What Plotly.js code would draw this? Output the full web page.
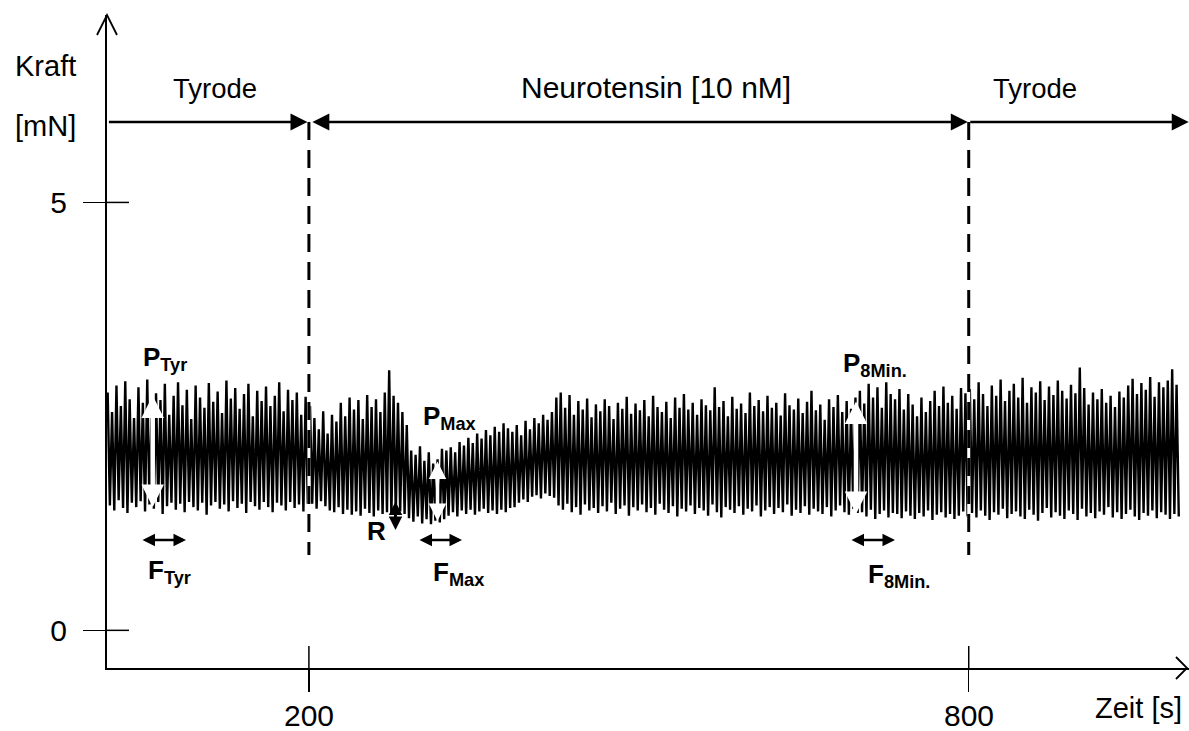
<!DOCTYPE html>
<html><head><meta charset="utf-8">
<script src="https://cdn.plot.ly/plotly-3.0.1.min.js"></script>
<style>html,body{margin:0;padding:0;background:#fff;}#chart{width:1189px;height:731px;}</style>
</head><body><div id="chart"></div>
<script>
// ---- data ----
const sampleStart = 17;     // s, time of the first contraction peak
const cycleLength = 4;      // s, spacing of the drawn contraction cycles
const peakForce = [
 2.78,2.55,2.86,2.62,2.91,2.70,2.48,2.84,2.66,2.93,2.58,2.77,
 2.69,2.88,2.52,2.74,2.90,2.63,2.81,2.47,2.86,2.72,2.60,2.89,
 2.67,2.79,2.54,2.92,2.71,2.83,2.59,2.76,2.88,2.50,2.80,2.68,
 2.85,2.62,2.74,2.90,2.56,2.81,2.69,2.78,2.52,2.73,
 2.62,2.48,2.35,2.56,2.30,2.52,2.44,2.66,2.50,2.72,2.58,2.69,2.47,2.75,2.61,2.70,2.55,2.78,3.04,2.74,2.66,
 2.55,2.40,2.10,2.05,2.15,1.98,2.08,1.95,2.00,2.12,
 2.10,2.14,2.08,2.20,2.16,2.25,2.19,2.30,2.24,2.34,2.28,2.38,2.32,2.42,2.36,
 2.32,2.40,2.28,2.45,2.35,2.48,2.42,2.52,2.46,2.55,
 2.72,2.78,2.60,2.75,2.52,2.68,2.58,2.71,2.49,2.64,
 2.56,2.70,2.62,2.47,2.66,2.59,2.73,2.53,2.65,2.57,
 2.69,2.50,2.74,2.61,2.55,2.67,2.48,2.72,2.60,2.76,
 2.58,2.66,2.52,2.70,2.63,2.57,2.84,2.61,2.68,2.50,
 2.73,2.59,2.65,2.54,2.78,2.62,2.69,2.56,2.74,2.60,
 2.66,2.51,2.77,2.63,2.58,2.71,2.54,2.67,2.80,2.57,
 2.64,2.46,2.70,2.61,2.75,2.55,2.68,2.59,2.72,
 2.80,2.65,2.88,2.72,2.84,2.60,2.90,2.76,
 2.70,2.82,2.58,2.76,2.64,2.50,2.72,2.55,2.68,2.80,2.62,2.85,2.66,2.74,2.59,2.83,2.77,
 2.82,2.70,2.90,2.76,2.62,2.86,2.74,2.93,2.68,2.80,
 2.88,2.72,2.95,2.66,2.84,2.78,2.91,2.69,2.85,2.75,
 2.92,2.80,2.71,2.87,2.77,3.07,2.83,2.64,2.78,2.70,
 2.82,2.66,2.74,2.61,2.79,2.72,2.86,2.94,2.76,2.89,
 2.81,2.96,2.73,2.90,2.84,2.92,3.05,2.87
];
const troughForce = [
 1.46,1.40,1.52,1.43,1.37,1.49,1.44,1.51,1.39,1.47,1.42,1.50,
 1.36,1.45,1.49,1.41,1.48,1.38,1.50,1.44,1.40,1.49,1.35,1.46,
 1.50,1.42,1.47,1.39,1.51,1.43,1.48,1.37,1.50,1.45,1.41,1.50,
 1.44,1.38,1.49,1.46,1.40,1.50,1.43,1.47,1.39,1.48,
 1.48,1.42,1.51,1.45,1.40,1.38,1.44,1.36,1.41,1.35,1.39,1.34,1.42,1.37,1.33,1.40,1.36,1.38,1.35,1.37,1.39,
 1.36,1.31,1.27,1.33,1.25,1.30,1.24,1.28,1.26,1.30,
 1.34,1.38,1.33,1.40,1.36,1.41,1.35,1.39,1.42,1.37,1.40,1.36,1.41,1.38,1.43,
 1.44,1.49,1.53,1.50,1.56,1.58,1.54,1.60,1.57,1.55,
 1.46,1.41,1.48,1.38,1.44,1.35,1.47,1.40,1.43,1.37,
 1.45,1.39,1.49,1.36,1.42,1.46,1.34,1.44,1.40,1.47,
 1.38,1.43,1.35,1.48,1.41,1.37,1.45,1.33,1.42,1.39,
 1.46,1.36,1.43,1.40,1.34,1.47,1.38,1.32,1.44,1.41,
 1.37,1.45,1.35,1.42,1.39,1.46,1.33,1.40,1.44,1.36,
 1.43,1.38,1.47,1.34,1.41,1.37,1.45,1.35,1.42,1.39,
 1.36,1.44,1.33,1.40,1.46,1.38,1.35,1.42,1.37,
 1.38,1.33,1.41,1.30,1.36,1.40,1.32,1.37,
 1.36,1.31,1.39,1.34,1.30,1.37,1.33,1.40,1.29,1.35,1.38,1.32,1.36,1.30,1.34,1.39,1.33,
 1.37,1.32,1.40,1.34,1.29,1.38,1.35,1.42,1.31,1.36,
 1.39,1.33,1.30,1.41,1.35,1.28,1.37,1.43,1.32,1.38,
 1.34,1.30,1.40,1.36,1.29,1.42,1.33,1.37,1.31,1.39,
 1.35,1.44,1.32,1.38,1.30,1.36,1.41,1.33,1.29,1.37,
 1.34,1.40,1.31,1.38,1.35,1.30,1.36,1.33
];
const phaseLabels = ['Tyrode', 'Neurotensin [10 nM]', 'Tyrode'];
const phaseBounds = [200, 800];           // s, solution changes
const xTickVals = [200, 800];
const xTickLabels = ['200', '800'];
const yTickVals = [0, 5];
const yTickLabels = ['0', '5'];

// ---- build the trace from the peak / trough arrays ----
const tx = [], ty = [];
for (let i = 0; i < peakForce.length; i++) {
  tx.push(sampleStart + i * cycleLength);
  ty.push(peakForce[i]);
  tx.push(sampleStart + i * cycleLength + cycleLength / 2);
  ty.push(troughForce[i]);
}

// ---- geometry helpers (pixel -> paper) ----
const W = 1189, H = 731, ML = 107, MR = 0, MT = 15, MB = 63;
const PW = W - ML - MR, PH = H - MT - MB;
const px = v => (v - ML) / PW;
const py = v => (H - MB - v) / PH;

const FONT = 'Liberation Sans, Arial, sans-serif';
const txt = (text, x, y, size, opts) => Object.assign({
  text, xref: 'paper', yref: 'paper', x: px(x), y: py(y),
  xanchor: 'center', yanchor: 'middle', showarrow: false,
  font: {family: FONT, size: size, color: '#000'}
}, opts || {});
const lbl = (text, x, y) => ({
  text: '<b>' + text + '</b>', xref: 'paper', yref: 'paper', x: px(x), y: py(y),
  xanchor: 'left', yanchor: 'middle', showarrow: false,
  font: {family: FONT, size: 26, color: '#000'}
});
// double arrow between two pixel points
const dArrow = (x1, y1, x2, y2, color, width, size) => ({
  text: '', xref: 'paper', yref: 'paper', x: px(x2), y: py(y2),
  axref: 'pixel', ayref: 'pixel', ax: x1 - x2, ay: y1 - y2,
  showarrow: true, arrowside: 'end+start', arrowhead: 2, startarrowhead: 2,
  arrowsize: size, startarrowsize: size, arrowwidth: width, arrowcolor: color
});

const annotations = [
  // y-axis title
  txt('Kraft', 13, 66, 29, {xanchor: 'left'}),
  txt('[mN]', 13, 126, 29, {xanchor: 'left'}),
  // x-axis title
  txt('Zeit [s]', 1184, 708, 29, {xanchor: 'right'}),
  // x tick labels
  {text: xTickLabels[0], xref: 'x', yref: 'paper', x: xTickVals[0], y: 0, yshift: -47,
   xanchor: 'center', yanchor: 'middle', showarrow: false, font: {family: FONT, size: 30, color: '#000'}},
  {text: xTickLabels[1], xref: 'x', yref: 'paper', x: xTickVals[1], y: 0, yshift: -47,
   xanchor: 'center', yanchor: 'middle', showarrow: false, font: {family: FONT, size: 30, color: '#000'}},
  // phase labels
  txt(phaseLabels[0], 215, 88, 27.5),
  txt(phaseLabels[1], 656, 87, 30),
  txt(phaseLabels[2], 1035, 88, 27.5),
  // phase arrows
  {text: '', xref: 'x', yref: 'paper', x: phaseBounds[0], y: py(122), axref: 'pixel', ayref: 'pixel',
   ax: -(308.5 - ML), ay: 0, showarrow: true, arrowhead: 2, arrowsize: 1.3, arrowwidth: 2.6,
   standoff: 1.5, arrowcolor: '#000'},
  {text: '', xref: 'x', yref: 'paper', x: phaseBounds[1], y: py(122), axref: 'x', ayref: 'pixel',
   ax: phaseBounds[0], ay: 0, showarrow: true, arrowside: 'end+start', arrowhead: 2, startarrowhead: 2,
   arrowsize: 1.3, startarrowsize: 1.3, arrowwidth: 2.6, standoff: 1, startstandoff: 2, arrowcolor: '#000'},
  {text: '', xref: 'x', yref: 'paper', x: 1000, y: py(122), axref: 'x', ayref: 'pixel',
   ax: phaseBounds[1], ay: 0, showarrow: true, arrowhead: 2, arrowsize: 1.3, arrowwidth: 2.6,
   standoff: 0, arrowcolor: '#000'},
  // white amplitude arrows
  dArrow(152.7, 394, 152.7, 507, '#fff', 4.5, 1.0),
  dArrow(437.5, 460, 437.5, 521, '#fff', 3.5, 1.0),
  dArrow(856, 400, 856, 514, '#fff', 4.5, 1.0),
  // black frequency / relaxation arrows
  dArrow(141, 540, 186, 540, '#000', 2.5, 1),
  dArrow(418, 540, 462, 540, '#000', 2.5, 1),
  dArrow(850, 540, 895, 540, '#000', 2.5, 1),
  dArrow(395.5, 500, 395.5, 530, '#000', 3, 0.9),
  // labels
  lbl('P<sub>Tyr</sub>', 141, 358),
  lbl('F<sub>Tyr</sub>', 146, 571),
  lbl('P<sub>Max</sub>', 421, 417),
  lbl('F<sub>Max</sub>', 431, 573),
  lbl('R', 365, 531),
  lbl('P<sub>8Min.</sub>', 841, 364),
  lbl('F<sub>8Min.</sub>', 866, 575)
];

const shapes = [];
// dashed phase boundaries (white underlay, black dashes)
phaseBounds.forEach(b => {
  shapes.push({type: 'line', layer: 'above', xref: 'x', yref: 'paper', x0: b, x1: b,
    y0: py(555), y1: py(122), line: {color: '#fff', width: 3}});
  shapes.push({type: 'line', layer: 'above', xref: 'x', yref: 'paper', x0: b, x1: b,
    y0: py(122), y1: py(555), line: {color: '#000', width: 3, dash: '18px,10px'}});
});
// inner halves of the ticks
yTickVals.forEach(v => shapes.push({type: 'line', xref: 'paper', xsizemode: 'pixel', xanchor: 0,
  x0: 0, x1: 22, yref: 'y', y0: v, y1: v, line: {color: '#000', width: 1.5}}));
xTickVals.forEach(v => shapes.push({type: 'line', xref: 'x', x0: v, x1: v, yref: 'paper',
  ysizemode: 'pixel', yanchor: 0, y0: 0, y1: 22, line: {color: '#000', width: 1.5}}));
// open arrow heads at the axis ends
shapes.push({type: 'path', xref: 'paper', yref: 'paper', xsizemode: 'pixel', ysizemode: 'pixel',
  xanchor: 0, yanchor: 1, path: 'M -10,-20 L 0,0 L 10,-20', line: {color: '#000', width: 1.8}});
shapes.push({type: 'path', xref: 'paper', yref: 'paper', xsizemode: 'pixel', ysizemode: 'pixel',
  xanchor: px(1187), yanchor: 0, path: 'M -11,11 L 0,0 L -11,-11', line: {color: '#000', width: 1.8}});

const data = [{
  x: tx, y: ty, type: 'scatter', mode: 'lines',
  line: {color: '#000', width: 2.4}, hoverinfo: 'skip', showlegend: false
}];

const layout = {
  width: W, height: H,
  margin: {l: ML, r: MR, t: MT, b: MB, pad: 0},
  paper_bgcolor: '#fff', plot_bgcolor: '#fff',
  showlegend: false,
  xaxis: {range: [16.4, 1000.3], showgrid: false, zeroline: false, showline: true,
    linecolor: '#000', linewidth: 2, tickvals: xTickVals, ticks: 'outside', ticklen: 22,
    tickwidth: 1.5, tickcolor: '#000', showticklabels: false, fixedrange: true},
  yaxis: {range: [-0.44, 7.19], showgrid: false, zeroline: false, showline: true,
    linecolor: '#000', linewidth: 2, tickvals: yTickVals, ticktext: yTickLabels,
    ticks: 'outside', ticklen: 22, tickwidth: 1.5, tickcolor: '#000',
    ticklabelstandoff: 10, tickfont: {family: FONT, size: 30, color: '#000'}, fixedrange: true},
  annotations: annotations,
  shapes: shapes
};

Plotly.newPlot('chart', data, layout, {staticPlot: true, displayModeBar: false});
</script>
</body></html>
